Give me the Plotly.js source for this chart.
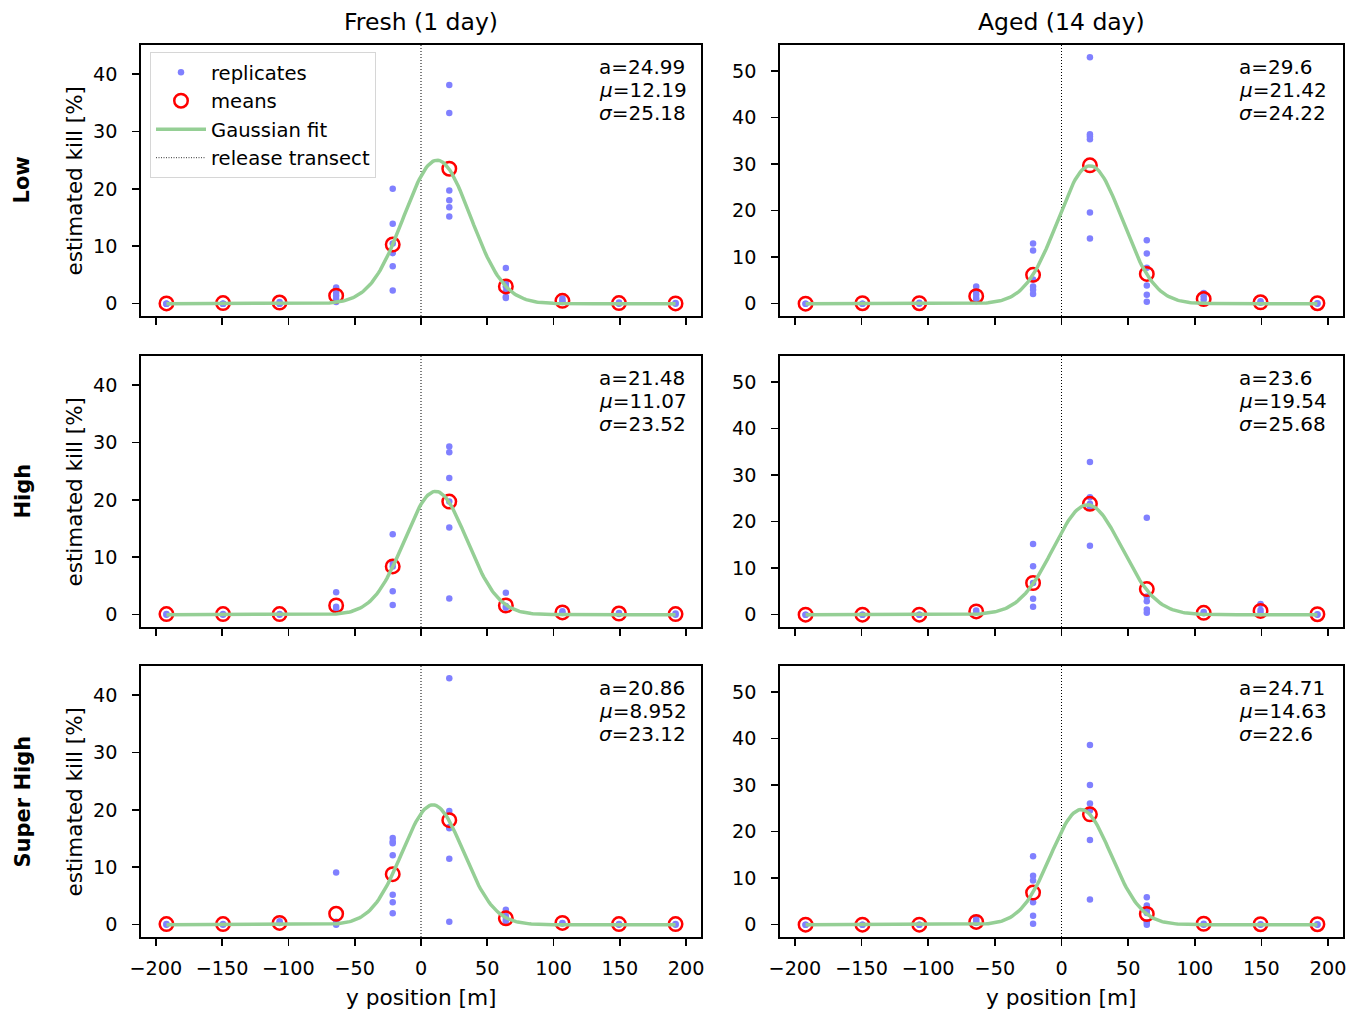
<!DOCTYPE html>
<html><head><meta charset="utf-8">
<script src="https://cdn.plot.ly/plotly-3.0.1.min.js"></script>
<style>html,body{margin:0;padding:0;background:#fff}#chart{width:1361px;height:1010px}</style>
</head><body><div id="chart"></div>
<script>
// ---------- data ----------
const positions = [-192, -149.33, -106.67, -64, -21.33, 21.33, 64, 106.67, 149.33, 192];
const columnTitles = ['Fresh (1 day)', 'Aged (14 day)'];
const rowTitles = ['Low', 'High', 'Super High'];
const xTicks = [-200, -150, -100, -50, 0, 50, 100, 150, 200];
const yTicksFresh = [0, 10, 20, 30, 40];
const yTicksAged = [0, 10, 20, 30, 40, 50];
const releasePos = 0;
const xLabel = 'y position [m]';
const yLabel = 'estimated kill [%]';

// replicates per position (Fresh = left column, Aged = right column)
const repFreshLow = [[0,0,0],[0,0,0],[0.3,0,0],[2.8,1.9,1.4,0.8,0.3],[20.0,13.9,10.5,8.8,6.5,2.3],[38.1,33.2,19.7,18.0,16.8,15.2],[6.2,3.5,3.0,2.1,1.2,1.0],[0.9,0.5,0.3],[0.2,0],[0.1,0]];
const repAgedLow = [[0,0],[0,0],[0.2,0],[3.7,2.6,1.9,1.2,0.8],[12.9,11.4,5.2,3.7,3.0,2.1],[52.9,36.4,35.9,35.3,19.6,14.0],[13.6,10.8,7.7,3.9,1.9,0.4],[2.3,1.6,0.9],[0.5,0.2],[0.1,0]];
const repFreshHigh = [[0.1,0],[0.1,0],[0.1,0],[3.9,1.4,1.0],[14.0,9.0,8.4,4.1,1.7],[29.3,28.3,23.8,19.7,15.2,2.8],[3.8,1.5,1.2],[0.6,0.3],[0.3,0.1],[0.2,0]];
const repAgedHigh = [[0,0],[0,0],[0,0],[0.9,0.5],[15.2,10.4,6.8,3.4,1.7],[32.8,25.2,23.8,23.0,14.8],[20.8,3.9,2.9,1.1,0.4],[0.6,0.3],[2.3,1.0,0.4],[0.1,0]];
const repFreshSuper = [[0.1,0],[0.1,0],[0.6,0.3],[9.1,0.0,0.5],[15.1,14.5,14.2,12.1,5.2,3.9,2.0],[42.9,19.8,17.0,16.8,11.5,0.5],[2.6,1.5,1.0,0.6],[0.3,0.2],[0.1,0],[0.1,0]];
const repAgedSuper = [[0,0],[0,0],[0,0],[1.2,0.8,0.4],[14.7,10.5,9.5,4.8,1.9,0.2],[38.6,30.0,26.0,24.5,18.2,5.4],[5.9,4.1,3.0,2.5,0.5,0],[0.2,0],[0.1,0],[0.1,0]];

// means per position
const meanFreshLow = [0.05, 0.1, 0.2, 1.4, 10.3, 23.5, 3.0, 0.5, 0.1, 0.05];
const meanAgedLow = [0, 0.1, 0.1, 1.6, 6.2, 29.7, 6.4, 1.0, 0.3, 0.1];
const meanFreshHigh = [0.1, 0.1, 0.1, 1.6, 8.4, 19.7, 1.6, 0.4, 0.2, 0.1];
const meanAgedHigh = [0, 0, 0, 0.7, 6.8, 23.8, 5.5, 0.4, 0.8, 0.1];
const meanFreshSuper = [0.1, 0.1, 0.3, 1.9, 8.8, 18.2, 1.1, 0.3, 0.1, 0.1];
const meanAgedSuper = [0, 0, 0, 0.6, 6.9, 23.7, 2.3, 0.2, 0.1, 0.1];

// Gaussian fit parameters [a, mu, sigma]
const fitFreshLow = [24.99, 12.19, 25.18];
const fitAgedLow = [29.6, 21.42, 24.22];
const fitFreshHigh = [21.48, 11.07, 23.52];
const fitAgedHigh = [23.6, 19.54, 25.68];
const fitFreshSuper = [20.86, 8.952, 23.12];
const fitAgedSuper = [24.71, 14.63, 22.6];
const fitLabels = [['24.99','12.19','25.18'],['29.6','21.42','24.22'],['21.48','11.07','23.52'],['23.6','19.54','25.68'],['20.86','8.952','23.12'],['24.71','14.63','22.6']];

// ---------- build ----------
const panels = [
  {rep: repFreshLow, mean: meanFreshLow, fit: fitFreshLow},
  {rep: repAgedLow, mean: meanAgedLow, fit: fitAgedLow},
  {rep: repFreshHigh, mean: meanFreshHigh, fit: fitFreshHigh},
  {rep: repAgedHigh, mean: meanAgedHigh, fit: fitAgedHigh},
  {rep: repFreshSuper, mean: meanFreshSuper, fit: fitFreshSuper},
  {rep: repAgedSuper, mean: meanAgedSuper, fit: fitAgedSuper}
];

const W = 1361, H = 1010;
const colPx = [[141, 701], [780, 1343]];
const rowPx = [[45, 316], [356, 627], [666, 937]];
const textLeftPx = [597, 1237];
const FONT = 'DejaVu Sans';
const REP_COLOR = 'rgb(128,128,255)';
const FIT_COLOR = 'rgb(149,207,149)';

function flatten(rep) {
  const xs = [], ys = [];
  rep.forEach((vals, i) => vals.forEach(v => { xs.push(positions[i]); ys.push(v); }));
  return {xs, ys};
}
function gaussCurve(p) {
  const [a, mu, s] = p;
  const xs = [], ys = [];
  const x0 = positions[0], x1 = positions[positions.length - 1];
  const n = 300;
  for (let i = 0; i <= n; i++) {
    const x = x0 + (x1 - x0) * i / n;
    xs.push(x); ys.push(a * Math.exp(-((x - mu) ** 2) / (2 * s * s)));
  }
  return {xs, ys};
}

// column y ranges (shared within column, 5% margins)
function colMax(list) { let m = 0; list.forEach(r => r.forEach(v => v.forEach(x => { if (x > m) m = x; }))); return m; }
const maxFresh = colMax([repFreshLow, repFreshHigh, repFreshSuper]);
const maxAged = colMax([repAgedLow, repAgedHigh, repAgedSuper]);
const yRangeFresh = [-0.05 * maxFresh, maxFresh * 1.05];
const yRangeAged = [-0.05 * maxAged, maxAged * 1.05];
const xSpan = positions[positions.length - 1] - positions[0];
const xRange = [positions[0] - 0.05 * xSpan, positions[positions.length - 1] + 0.05 * xSpan];

const traces = [];
const layout = {
  width: W, height: H,
  margin: {l: 0, r: 0, t: 0, b: 0},
  paper_bgcolor: '#fff', plot_bgcolor: '#fff',
  font: {family: FONT, size: 19.2, color: '#000'},
  showlegend: true,
  legend: {
    x: 150 / W, y: 1 - 52 / H, xanchor: 'left', yanchor: 'top',
    bgcolor: 'rgba(255,255,255,0.8)', bordercolor: '#d6d6d6', borderwidth: 1,
    font: {family: FONT, size: 19.6, color: '#000'},
    itemwidth: 50, traceorder: 'normal'
  },
  annotations: [], shapes: []
};

panels.forEach((p, k) => {
  const row = Math.floor(k / 2), col = k % 2;
  const n = k + 1;
  const xa = 'x' + (n === 1 ? '' : n), ya = 'y' + (n === 1 ? '' : n);
  const xKey = 'xaxis' + (n === 1 ? '' : n), yKey = 'yaxis' + (n === 1 ? '' : n);
  const isFresh = col === 0;
  const common = {
    showline: true, mirror: true, linecolor: '#000', linewidth: 1.8,
    ticks: 'outside', ticklen: 7, tickwidth: 1.6, tickcolor: '#000',
    showgrid: false, zeroline: false, fixedrange: true,
    tickfont: {family: FONT, size: 19.2, color: '#000'}
  };
  layout[xKey] = Object.assign({}, common, {
    domain: [colPx[col][0] / W, colPx[col][1] / W],
    anchor: ya, range: xRange, tickvals: xTicks,
    showticklabels: row === 2, ticklabelstandoff: 6
  });
  layout[yKey] = Object.assign({}, common, {
    domain: [1 - rowPx[row][1] / H, 1 - rowPx[row][0] / H],
    anchor: xa, range: isFresh ? yRangeFresh : yRangeAged,
    tickvals: isFresh ? yTicksFresh : yTicksAged, ticklabelstandoff: 11
  });

  const r = flatten(p.rep);
  const g = gaussCurve(p.fit);
  const leg = k === 0;
  traces.push({type: 'scatter', mode: 'markers', x: r.xs, y: r.ys, xaxis: xa, yaxis: ya,
    name: 'replicates', showlegend: leg, legendrank: 1, cliponaxis: false,
    marker: {color: REP_COLOR, size: 6.5, line: {width: 0}}});
  traces.push({type: 'scatter', mode: 'markers', x: positions, y: p.mean, xaxis: xa, yaxis: ya,
    name: 'means', showlegend: leg, legendrank: 2,
    marker: {symbol: 'circle-open', color: 'rgb(255,0,0)', size: 13.5, line: {width: 2.5, color: 'rgb(255,0,0)'}}});
  traces.push({type: 'scatter', mode: 'lines', x: g.xs, y: g.ys, xaxis: xa, yaxis: ya,
    name: 'Gaussian fit', showlegend: leg, legendrank: 3,
    line: {color: FIT_COLOR, width: 3.5}});
  if (leg) {
    traces.push({type: 'scatter', mode: 'lines', x: [null], y: [null], xaxis: xa, yaxis: ya,
      name: 'release transect', showlegend: true, legendrank: 4,
      line: {color: '#333', width: 1, dash: '1px,1.5px'}});
  }

  layout.shapes.push({type: 'line', xref: xa, yref: ya + ' domain', x0: releasePos, x1: releasePos, y0: 0, y1: 1,
    line: {color: '#000', width: 1, dash: '1px,2px'}, layer: 'below'});

  const lab = fitLabels[k];
  const lines = ['a=' + lab[0], '<i>μ</i>=' + lab[1], '<i>σ</i>=' + lab[2]];
  const xl = (textLeftPx[col] - colPx[col][0]) / (colPx[col][1] - colPx[col][0]);
  lines.forEach((t, i) => {
    layout.annotations.push({xref: xa + ' domain', yref: ya + ' domain', x: xl, y: 1 - (22 + 23 * i) / 271,
      xanchor: 'left', yanchor: 'middle', showarrow: false, text: t,
      font: {family: FONT, size: 20, color: '#000'}});
  });
});

// column titles + x labels
columnTitles.forEach((t, c) => {
  layout.annotations.push({xref: 'paper', yref: 'paper', x: (colPx[c][0] + colPx[c][1]) / 2 / W, y: 1 - 22 / H,
    xanchor: 'center', yanchor: 'middle', showarrow: false, text: t, font: {family: FONT, size: 23.5, color: '#000'}});
  layout.annotations.push({xref: 'paper', yref: 'paper', x: (colPx[c][0] + colPx[c][1]) / 2 / W, y: 1 - 997 / H,
    xanchor: 'center', yanchor: 'middle', showarrow: false, text: xLabel, font: {family: FONT, size: 21.7, color: '#000'}});
});
// row titles + y labels
rowTitles.forEach((t, r) => {
  const yc = 1 - (rowPx[r][0] + rowPx[r][1]) / 2 / H;
  layout.annotations.push({xref: 'paper', yref: 'paper', x: 22 / W, y: yc, textangle: -90,
    xanchor: 'center', yanchor: 'middle', showarrow: false, text: '<b>' + t + '</b>', font: {family: FONT, size: 21, color: '#000'}});
  layout.annotations.push({xref: 'paper', yref: 'paper', x: 74 / W, y: yc, textangle: -90,
    xanchor: 'center', yanchor: 'middle', showarrow: false, text: yLabel, font: {family: FONT, size: 21.5, color: '#000'}});
});

Plotly.newPlot('chart', traces, layout, {displayModeBar: false, staticPlot: true});
</script>
</body></html>
